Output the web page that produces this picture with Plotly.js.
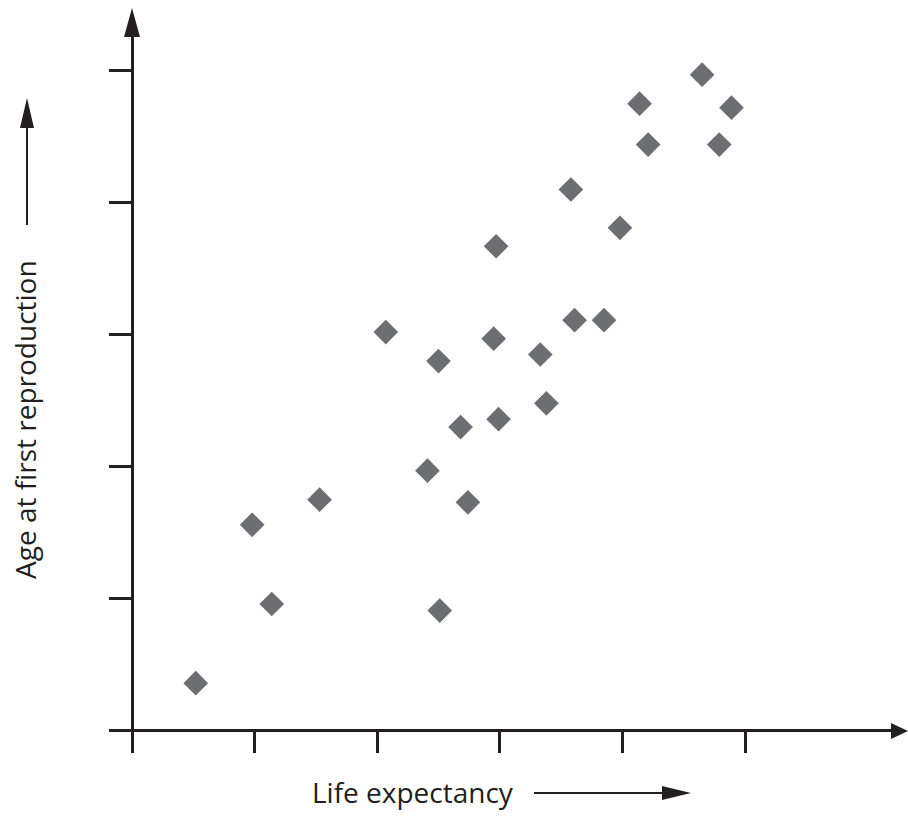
<!DOCTYPE html>
<html>
<head>
<meta charset="utf-8">
<script src="https://cdn.plot.ly/plotly-3.0.1.min.js"></script>
<style>html,body{margin:0;padding:0;background:#fff;}#chart{width:908px;height:837px;}</style>
</head>
<body>
<div id="chart"></div>
<script>
// Life expectancy (x, arbitrary units) and age at first reproduction (y, arbitrary units)
var lifeExpectancy = [0.52, 0.98, 1.14, 1.53, 2.07, 2.41, 2.50, 2.51, 2.68, 2.74, 2.95, 2.97, 2.99, 3.33, 3.38, 3.58, 3.61, 3.85, 3.98, 4.14, 4.21, 4.65, 4.79, 4.89];
var ageFirstRepro = [0.36, 1.56, 0.96, 1.75, 3.02, 1.97, 2.80, 0.91, 2.30, 1.73, 2.97, 3.67, 2.36, 2.85, 2.48, 4.10, 3.11, 3.11, 3.81, 4.75, 4.44, 4.97, 4.44, 4.72];
var xTicks = [0, 1, 2, 3, 4, 5];
var yTicks = [0, 1, 2, 3, 4, 5];
var xLabel = "Life expectancy";
var yLabel = "Age at first reproduction";

var W = 908, H = 837;
var mL = 109, mR = 16, mT = 36, mB = 84;
var pw = W - mL - mR, ph = H - mT - mB;
function px(p) { return (p - mL) / pw; }
function py(p) { return (H - mB - p) / ph; }
var ink = '#231f20';

function tri(x1, y1, x2, y2, x3, y3) {
  return 'M' + px(x1) + ',' + py(y1) + ' L' + px(x2) + ',' + py(y2) + ' L' + px(x3) + ',' + py(y3) + ' Z';
}

var shapes = [
  // axis arrowheads
  {type: 'path', xref: 'paper', yref: 'paper', path: tri(132, 8, 124, 37, 140, 37), fillcolor: ink, line: {width: 0}},
  {type: 'path', xref: 'paper', yref: 'paper', path: tri(908, 731, 891, 723, 891, 739), fillcolor: ink, line: {width: 0}},
  // y label arrow
  {type: 'line', xref: 'paper', yref: 'paper', x0: px(27), x1: px(27), y0: py(225), y1: py(125), line: {color: ink, width: 2}},
  {type: 'path', xref: 'paper', yref: 'paper', path: tri(27, 98, 20, 128, 34, 128), fillcolor: ink, line: {width: 0}},
  // x label arrow
  {type: 'line', xref: 'paper', yref: 'paper', x0: px(534), x1: px(665), y0: py(793), y1: py(793), line: {color: ink, width: 2}},
  {type: 'path', xref: 'paper', yref: 'paper', path: tri(691, 793, 662, 786, 662, 800), fillcolor: ink, line: {width: 0}}
];

var trace = {
  type: 'scatter', mode: 'markers',
  x: lifeExpectancy, y: ageFirstRepro,
  marker: {symbol: 'diamond', size: 19, color: '#6d6e71', line: {width: 0}},
  hoverinfo: 'skip', cliponaxis: false
};

var layout = {
  width: W, height: H,
  margin: {l: mL, r: mR, t: mT, b: mB, pad: 0},
  paper_bgcolor: '#ffffff', plot_bgcolor: '#ffffff',
  showlegend: false,
  xaxis: {
    range: [(109 - 132) / 122.6, (892 - 132) / 122.6],
    tickvals: xTicks, ticktext: xTicks.map(function(){return '';}),
    ticks: 'inside', ticklen: 22, tickwidth: 3, tickcolor: ink,
    showgrid: false, showline: false,
    zeroline: true, zerolinecolor: ink, zerolinewidth: 3,
    fixedrange: true
  },
  yaxis: {
    range: [-(753 - 730.7) / 132, (730.7 - 36) / 132],
    tickvals: yTicks, ticktext: yTicks.map(function(){return '';}),
    ticks: 'inside', ticklen: 22, tickwidth: 3, tickcolor: ink,
    showgrid: false, showline: false,
    zeroline: true, zerolinecolor: ink, zerolinewidth: 3,
    fixedrange: true
  },
  shapes: shapes,
  annotations: [
    {xref: 'paper', yref: 'paper', x: px(413), y: py(792), text: xLabel, showarrow: false,
     xanchor: 'center', yanchor: 'middle', font: {family: 'Open Sans, DejaVu Sans, sans-serif', size: 28, color: ink}},
    {xref: 'paper', yref: 'paper', x: px(25), y: py(420), text: yLabel, showarrow: false, textangle: -90,
     xanchor: 'center', yanchor: 'middle', font: {family: 'Open Sans, DejaVu Sans, sans-serif', size: 28, color: ink}}
  ]
};

Plotly.newPlot('chart', [trace], layout, {displayModeBar: false, staticPlot: true});
</script>
</body>
</html>
